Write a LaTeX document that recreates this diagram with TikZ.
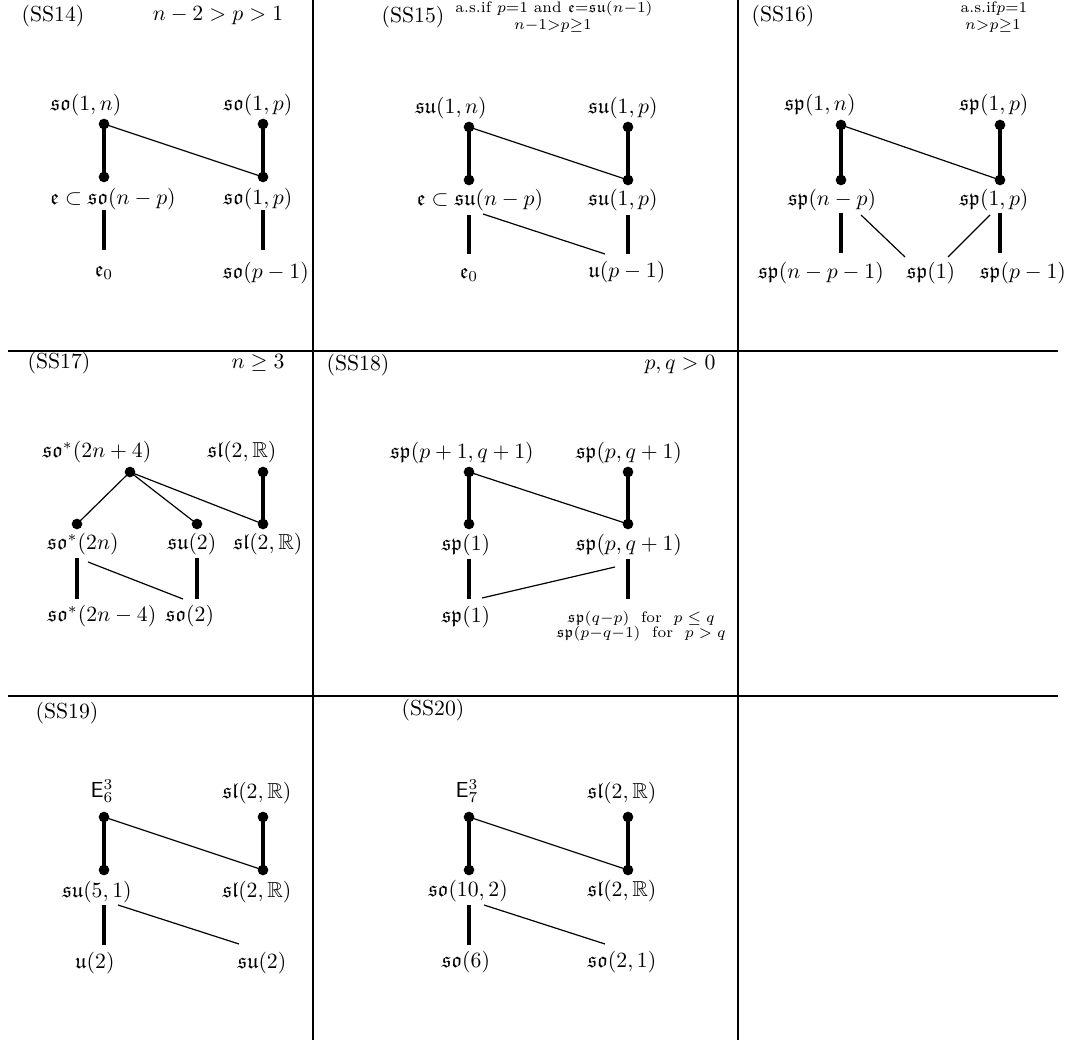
\documentclass[tikz,border=0pt]{standalone}
\usepackage{amsmath,amssymb}
\begin{document}
\begin{tikzpicture}[x=0.46pt,y=-0.46pt,
  lbl/.style={inner sep=0pt},
  sml/.style={inner sep=0pt,font=\scriptsize,align=center},
  dotn/.style={circle,fill=black,inner sep=0pt,minimum size=4.9pt},
  thk/.style={line width=1.6pt},
  thn/.style={line width=0.55pt},
  gridl/.style={line width=0.95pt}]
\useasboundingbox (0,0) rectangle (1081,1044);
% grid
\coordinate (v1t) at (313,0); \coordinate (v1b) at (313,1040);
\coordinate (v2t) at (738,0); \coordinate (v2b) at (738,1040);
\coordinate (h1l) at (8,351); \coordinate (h1r) at (1058,351);
\coordinate (h2l) at (8,696); \coordinate (h2r) at (1058,696);
\draw[gridl] (v1t) -- (v1b);
\draw[gridl] (v2t) -- (v2b);
\draw[gridl] (h1l) -- (h1r);
\draw[gridl] (h2l) -- (h2r);

% ---------- SS14
\node[lbl] (t14) at (53,16) {(SS14)};
\node[lbl] (c14) at (218,16) {$n-2>p>1$};
\node[lbl] (a14a) at (86,105) {$\mathfrak{so}(1,n)$};
\node[lbl] (b14a) at (258,105) {$\mathfrak{so}(1,p)$};
\node[dotn] (d14a) at (104,124) {};
\node[dotn] (d14b) at (263,124) {};
\node[dotn] (d14c) at (104,177) {};
\node[dotn] (d14d) at (263,177) {};
\node[lbl] (a14b) at (113,199) {$\mathfrak{e}\subset\mathfrak{so}(n-p)$};
\node[lbl] (b14b) at (258,199) {$\mathfrak{so}(1,p)$};
\node[lbl] (a14c) at (104,273) {$\mathfrak{e}_0$};
\node[lbl] (b14c) at (266,273) {$\mathfrak{so}(p-1)$};
\draw[thk] (d14a.center) -- (d14c.center);
\draw[thk] (d14b.center) -- (d14d.center);
\draw[thn] (d14a.center) -- (d14d.center);
\coordinate (p14a) at (104,210); \coordinate (q14a) at (104,250);
\coordinate (p14b) at (263,210); \coordinate (q14b) at (263,250);
\draw[thk] (p14a) -- (q14a);
\draw[thk] (p14b) -- (q14b);

% ---------- SS15
\node[lbl] (t15) at (413,17) {(SS15)};
\node[sml] (s15a) at (554,9) {a.s.if $p{=}1$ and $\mathfrak{e}{=}\mathfrak{su}(n{-}1)$};
\node[sml] (s15b) at (553,26) {$n{-}1{>}p{\geq}1$};
\node[lbl] (a15a) at (451,108) {$\mathfrak{su}(1,n)$};
\node[lbl] (b15a) at (623,108) {$\mathfrak{su}(1,p)$};
\node[dotn] (d15a) at (469,127) {};
\node[dotn] (d15b) at (628,127) {};
\node[dotn] (d15c) at (469,180) {};
\node[dotn] (d15d) at (628,180) {};
\node[lbl] (a15b) at (480,200) {$\mathfrak{e}\subset\mathfrak{su}(n-p)$};
\node[lbl] (b15b) at (623,200) {$\mathfrak{su}(1,p)$};
\node[lbl] (a15c) at (469,275) {$\mathfrak{e}_0$};
\node[lbl] (b15c) at (627,272) {$\mathfrak{u}(p-1)$};
\draw[thk] (d15a.center) -- (d15c.center);
\draw[thk] (d15b.center) -- (d15d.center);
\draw[thn] (d15a.center) -- (d15d.center);
\coordinate (p15a) at (469,215); \coordinate (q15a) at (469,254);
\coordinate (p15b) at (628,215); \coordinate (q15b) at (628,254);
\coordinate (p15c) at (483,214); \coordinate (q15c) at (605,254);
\draw[thk] (p15a) -- (q15a);
\draw[thk] (p15b) -- (q15b);
\draw[thn] (p15c) -- (q15c);

% ---------- SS16
\node[lbl] (t16) at (783,16) {(SS16)};
\node[sml] (s16a) at (994,9) {a.s.if$p{=}1$};
\node[sml] (s16b) at (993,26) {$n{>}p{\geq}1$};
\node[lbl] (a16a) at (820,105) {$\mathfrak{sp}(1,n)$};
\node[lbl] (b16a) at (994,105) {$\mathfrak{sp}(1,p)$};
\node[dotn] (d16a) at (841,125) {};
\node[dotn] (d16b) at (1000,125) {};
\node[dotn] (d16c) at (841,180) {};
\node[dotn] (d16d) at (1000,180) {};
\node[lbl] (a16b) at (832,200) {$\mathfrak{sp}(n-p)$};
\node[lbl] (b16b) at (994,200) {$\mathfrak{sp}(1,p)$};
\node[lbl] (a16c) at (821,273) {$\mathfrak{sp}(n-p-1)$};
\node[lbl] (m16c) at (931,273) {$\mathfrak{sp}(1)$};
\node[lbl] (b16c) at (1023,273) {$\mathfrak{sp}(p-1)$};
\draw[thk] (d16a.center) -- (d16c.center);
\draw[thk] (d16b.center) -- (d16d.center);
\draw[thn] (d16a.center) -- (d16d.center);
\coordinate (p16a) at (841,213); \coordinate (q16a) at (841,253);
\coordinate (p16b) at (1000,213); \coordinate (q16b) at (1000,253);
\coordinate (p16c) at (861,215); \coordinate (q16c) at (905,257);
\coordinate (p16d) at (990,215); \coordinate (q16d) at (948,257);
\draw[thk] (p16a) -- (q16a);
\draw[thk] (p16b) -- (q16b);
\draw[thn] (p16c) -- (q16c);
\draw[thn] (p16d) -- (q16d);

% ---------- SS17
\node[lbl] (t17) at (59,363) {(SS17)};
\node[lbl] (c17) at (258,363) {$n\geq 3$};
\node[lbl] (a17a) at (97,452) {$\mathfrak{so}^*(2n+4)$};
\node[lbl] (b17a) at (242,452) {$\mathfrak{sl}(2,\mathbb{R})$};
\node[dotn] (d17a) at (130,472) {};
\node[dotn] (d17b) at (263,472) {};
\node[dotn] (d17c) at (77,524) {};
\node[dotn] (d17e) at (197,524) {};
\node[dotn] (d17d) at (263,524) {};
\node[lbl] (a17b) at (83,544) {$\mathfrak{so}^*(2n)$};
\node[lbl] (m17b) at (192,544) {$\mathfrak{su}(2)$};
\node[lbl] (b17b) at (268,544) {$\mathfrak{sl}(2,\mathbb{R})$};
\node[lbl] (a17c) at (102,616) {$\mathfrak{so}^*(2n-4)$};
\node[lbl] (m17c) at (190,616) {$\mathfrak{so}(2)$};
\draw[thn] (d17a.center) -- (d17c.center);
\draw[thn] (d17a.center) -- (d17e.center);
\draw[thn] (d17a.center) -- (d17d.center);
\draw[thk] (d17b.center) -- (d17d.center);
\coordinate (p17a) at (77,558); \coordinate (q17a) at (77,599);
\coordinate (p17b) at (197,558); \coordinate (q17b) at (197,599);
\coordinate (p17c) at (88,562); \coordinate (q17c) at (183,599);
\draw[thk] (p17a) -- (q17a);
\draw[thk] (p17b) -- (q17b);
\draw[thn] (p17c) -- (q17c);

% ---------- SS18
\node[lbl] (t18) at (358,365) {(SS18)};
\node[lbl] (c18) at (680,365) {$p,q>0$};
\node[lbl] (a18a) at (462,453) {$\mathfrak{sp}(p+1,q+1)$};
\node[lbl] (b18a) at (629,453) {$\mathfrak{sp}(p,q+1)$};
\node[dotn] (d18a) at (469,472) {};
\node[dotn] (d18b) at (628,472) {};
\node[dotn] (d18c) at (469,524) {};
\node[dotn] (d18d) at (628,524) {};
\node[lbl] (a18b) at (466,545) {$\mathfrak{sp}(1)$};
\node[lbl] (b18b) at (629,545) {$\mathfrak{sp}(p,q+1)$};
\node[lbl] (a18c) at (466,617) {$\mathfrak{sp}(1)$};
\node[sml] (b18c) at (641,626) {$\mathfrak{sp}(q{-}p)$\ \ for\ \ $p\leq q$\\[-1pt]$\mathfrak{sp}(p{-}q{-}1)$\ \ for\ \ $p>q$};
\draw[thk] (d18a.center) -- (d18c.center);
\draw[thk] (d18b.center) -- (d18d.center);
\draw[thn] (d18a.center) -- (d18d.center);
\coordinate (p18a) at (469,559); \coordinate (q18a) at (469,599);
\coordinate (p18b) at (628,559); \coordinate (q18b) at (628,599);
\coordinate (p18c) at (482,598); \coordinate (q18c) at (615,567);
\draw[thk] (p18a) -- (q18a);
\draw[thk] (p18b) -- (q18b);
\draw[thn] (p18c) -- (q18c);

% ---------- SS19
\node[lbl] (t19) at (67,713) {(SS19)};
\node[lbl] (a19a) at (102,791) {$\mathsf{E}_6^3$};
\node[lbl] (b19a) at (257,793) {$\mathfrak{sl}(2,\mathbb{R})$};
\node[dotn] (d19a) at (104,817) {};
\node[dotn] (d19b) at (263,817) {};
\node[dotn] (d19c) at (104,870) {};
\node[dotn] (d19d) at (263,870) {};
\node[lbl] (a19b) at (97,892) {$\mathfrak{su}(5,1)$};
\node[lbl] (b19b) at (257,892) {$\mathfrak{sl}(2,\mathbb{R})$};
\node[lbl] (a19c) at (95,963) {$\mathfrak{u}(2)$};
\node[lbl] (b19c) at (262,963) {$\mathfrak{su}(2)$};
\draw[thk] (d19a.center) -- (d19c.center);
\draw[thk] (d19b.center) -- (d19d.center);
\draw[thn] (d19a.center) -- (d19d.center);
\coordinate (p19a) at (104,905); \coordinate (q19a) at (104,945);
\coordinate (p19c) at (118,905); \coordinate (q19c) at (239,944);
\draw[thk] (p19a) -- (q19a);
\draw[thn] (p19c) -- (q19c);

% ---------- SS20
\node[lbl] (t20) at (433,710) {(SS20)};
\node[lbl] (a20a) at (467,791) {$\mathsf{E}_7^3$};
\node[lbl] (b20a) at (622,793) {$\mathfrak{sl}(2,\mathbb{R})$};
\node[dotn] (d20a) at (469,817) {};
\node[dotn] (d20b) at (628,817) {};
\node[dotn] (d20c) at (469,870) {};
\node[dotn] (d20d) at (628,870) {};
\node[lbl] (a20b) at (468,891) {$\mathfrak{so}(10,2)$};
\node[lbl] (b20b) at (622,891) {$\mathfrak{sl}(2,\mathbb{R})$};
\node[lbl] (a20c) at (466,962) {$\mathfrak{so}(6)$};
\node[lbl] (b20c) at (622,962) {$\mathfrak{so}(2,1)$};
\draw[thk] (d20a.center) -- (d20c.center);
\draw[thk] (d20b.center) -- (d20d.center);
\draw[thn] (d20a.center) -- (d20d.center);
\coordinate (p20a) at (469,905); \coordinate (q20a) at (469,945);
\coordinate (p20c) at (484,905); \coordinate (q20c) at (605,944);
\draw[thk] (p20a) -- (q20a);
\draw[thn] (p20c) -- (q20c);
\end{tikzpicture}
\end{document}
